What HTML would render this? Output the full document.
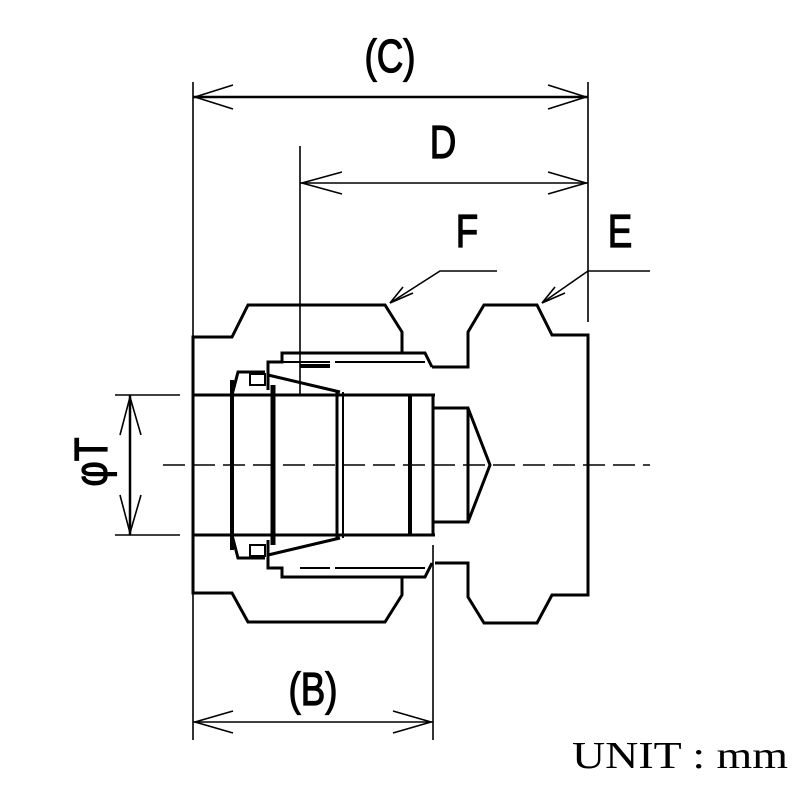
<!DOCTYPE html>
<html><head><meta charset="utf-8"><style>
html,body{margin:0;padding:0;background:#fff;}
svg{display:block;}
text{font-family:"Liberation Sans",sans-serif;fill:#000;}
</style></head><body>
<svg width="800" height="800" viewBox="0 0 800 800" xmlns="http://www.w3.org/2000/svg">
<g fill="none" stroke="#000" stroke-width="3" stroke-linejoin="miter">
<!-- body outline -->
<polyline points="402,353 402,332 385,305 248,305 232,337 193,337 193,593 232,593 248,622 385,622 402,595 402,578"/>
<polyline points="432,367 468,367 468,332 484,305 537,305 552,335 588,335 588,595 552,595 537,623 484,623 468,597 468,563 435,563"/>
<!-- inner bore -->
<line x1="193" y1="395" x2="435" y2="395"/>
<line x1="193" y1="535" x2="435" y2="535"/>
<line x1="433" y1="395" x2="433" y2="535"/>
<polyline points="433,408 468,408 490,465 468,522 433,522"/>
<line x1="468" y1="408" x2="468" y2="522"/>
<line x1="232" y1="380" x2="232" y2="550" stroke-width="4"/>
<line x1="273" y1="385" x2="273" y2="545" stroke-width="5"/>
<line x1="337" y1="392" x2="337" y2="538"/>
<line x1="343" y1="392" x2="343" y2="538" stroke-width="2"/>
<line x1="410" y1="395" x2="410" y2="535" stroke-width="4"/>
<!-- top ferrule/sleeve -->
<polyline points="232,395 238,372 265,372"/>
<rect x="250" y="374" width="15" height="11" stroke-width="2"/>
<polyline points="268,372 268,362 282,362 282,353 425,353 432,367"/>
<line x1="268" y1="375" x2="340" y2="392"/>
<line x1="282" y1="362" x2="330" y2="362" stroke-width="2"/>
<line x1="300" y1="366" x2="330" y2="366" stroke-width="4"/>
<line x1="335" y1="362" x2="425" y2="362" stroke-width="2"/>
<line x1="268" y1="372" x2="268" y2="390"/>
<!-- bottom ferrule/sleeve -->
<polyline points="232,535 238,558 265,558"/>
<rect x="250" y="545" width="15" height="11" stroke-width="2"/>
<polyline points="268,558 268,568 282,568 282,577 425,577 432,563"/>
<line x1="268" y1="555" x2="340" y2="538"/>
<line x1="300" y1="568" x2="330" y2="568" stroke-width="2"/>
<line x1="335" y1="568" x2="425" y2="568" stroke-width="2"/>
<line x1="268" y1="540" x2="268" y2="558"/>
</g>
<g fill="none" stroke="#000" stroke-width="1.6">
<line x1="163" y1="465" x2="650" y2="465" stroke-dasharray="22,8"/>
<line x1="193" y1="82" x2="193" y2="337"/>
<line x1="193" y1="593" x2="193" y2="740"/>
<line x1="588" y1="82" x2="588" y2="322"/>
<line x1="300" y1="146" x2="300" y2="395"/>
<line x1="433" y1="545" x2="433" y2="740"/>
<line x1="115" y1="395" x2="180" y2="395"/>
<line x1="115" y1="535" x2="180" y2="535"/>
<line x1="193" y1="97" x2="588" y2="97" stroke-width="2.5"/>
<polyline points="233,85 195,97 233,109"/>
<polyline points="548,85 586,97 548,109"/>
<line x1="300" y1="183" x2="588" y2="183"/>
<polyline points="342,172 302,183 342,194"/>
<polyline points="548,172 586,183 548,194"/>
<line x1="193" y1="722" x2="433" y2="722"/>
<polyline points="233,711 195,722 233,733"/>
<polyline points="393,711 431,722 393,733"/>
<line x1="130" y1="395" x2="130" y2="535" stroke-width="2.5"/>
<polyline points="120,435 130,397 141,435"/>
<polyline points="120,495 130,533 141,495"/>
<polyline points="390,303 440,271 497,271"/>
<polyline points="542,303 588,271 650,271"/>
<line x1="390" y1="303" x2="403" y2="287"/>
<line x1="390" y1="303" x2="413" y2="293"/>
<line x1="542" y1="303" x2="555" y2="287"/>
<line x1="542" y1="303" x2="565" y2="293"/>
</g>
<g font-size="46" stroke="#000" stroke-width="1.2">
<text x="390" y="72" text-anchor="middle" transform="translate(390,0) scale(0.8,1) translate(-390,0)">(C)</text>
<text x="443" y="158" text-anchor="middle" transform="translate(443,0) scale(0.8,1) translate(-443,0)">D</text>
<text x="467" y="247" text-anchor="middle" transform="translate(467,0) scale(0.8,1) translate(-467,0)">F</text>
<text x="620" y="247" text-anchor="middle" transform="translate(620,0) scale(0.8,1) translate(-620,0)">E</text>
<text x="313" y="705" text-anchor="middle" transform="translate(313,0) scale(0.8,1) translate(-313,0)">(B)</text>
<text transform="translate(107,462) rotate(-90) scale(0.85,1)" text-anchor="middle">φT</text>
</g>
<text x="572" y="768" font-size="38" textLength="216" lengthAdjust="spacingAndGlyphs" style="font-family:'Liberation Serif',serif">UNIT : mm</text>
</svg>
</body></html>
